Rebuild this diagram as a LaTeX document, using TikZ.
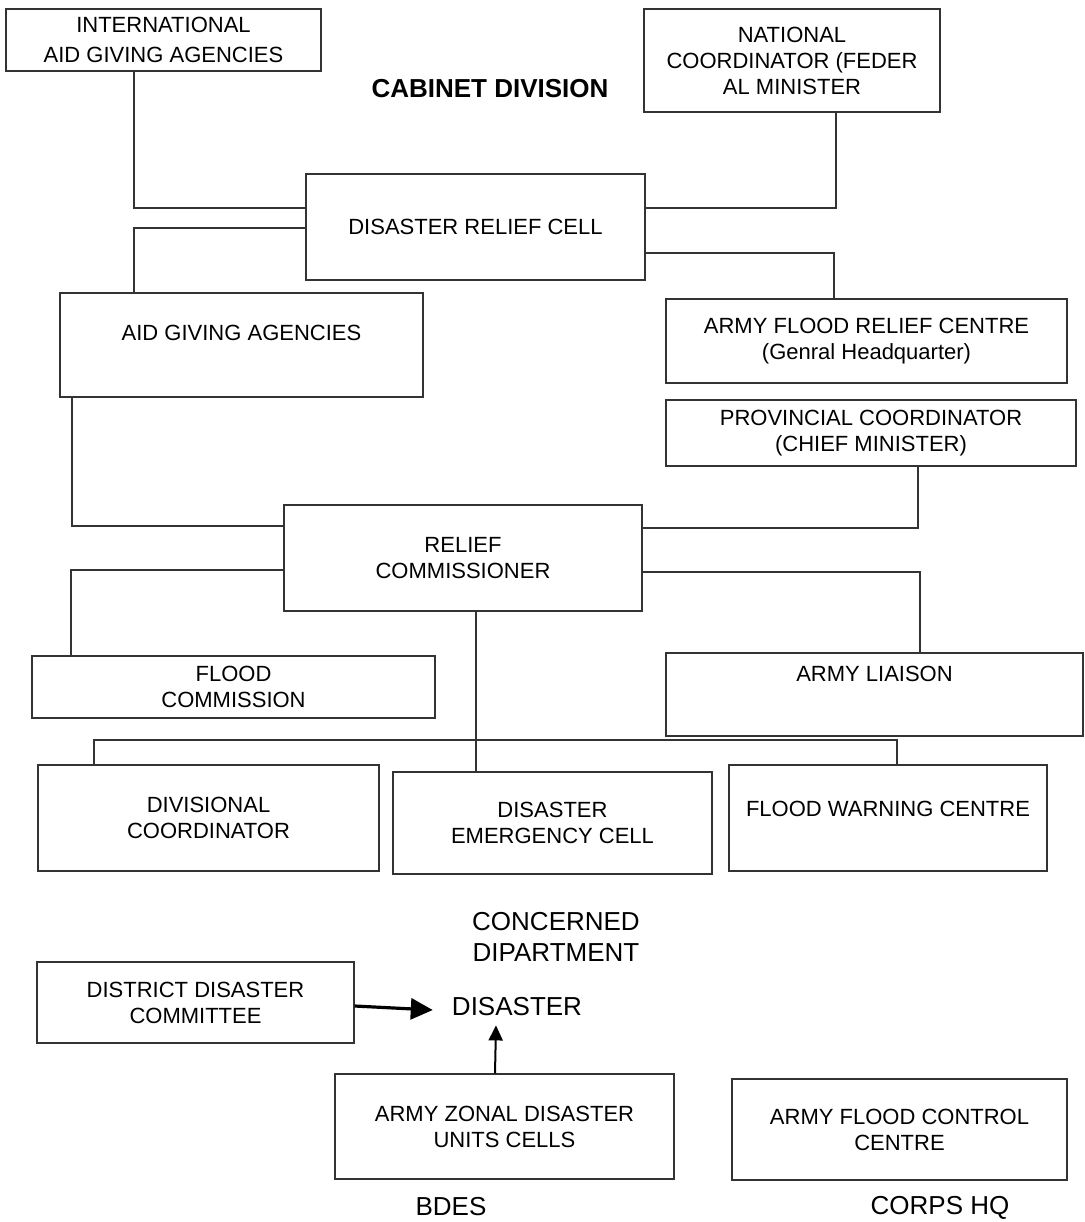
\documentclass[tikz,border=0pt]{standalone}
\usepackage{fontspec}
\setmainfont{Liberation Sans}
\usetikzlibrary{arrows.meta}

\begin{document}
\begin{tikzpicture}[x=1pt, y=-1pt,
    unit/.style={rectangle, draw=black!80, line width=1.2pt, align=center,
      font=\fontsize{22}{26}\selectfont},
    title/.style={font=\fontsize{26}{31}\selectfont, align=center, inner sep=0pt},
    link/.style={draw=black!80, line width=1.2pt},
    bigarrow/.style={line width=3.2pt, -{Triangle[length=22pt,width=21pt]}},
    smallarrow/.style={line width=2pt, -{Triangle[length=15pt,width=14pt]}}]
  \useasboundingbox (0,0) rectangle (1084,1222);

  % top level
  \node(intl) [unit, minimum width=315pt, minimum height=62pt] at (163.5,40) {INTERNATIONAL\\[4pt]AID GIVING AGENCIES};
  \node(natl) [unit, minimum width=296pt, minimum height=103pt] at (792,60.5) {NATIONAL\\COORDINATOR (FEDER\\AL MINISTER};
  \node(cabinet) [title, font=\bfseries\fontsize{26}{31}\selectfont] at (490,89) {CABINET DIVISION};
  \node(cell) [unit, minimum width=339pt, minimum height=106pt] at (475.5,227) {DISASTER RELIEF CELL};
  \node(aid) [unit, minimum width=363pt, inner ysep=0pt, text height=47pt, text depth=57pt] at (241.5,345) {AID GIVING AGENCIES};
  \node(afrc) [unit, minimum width=401pt, minimum height=84pt] at (866.5,341) {ARMY FLOOD RELIEF CENTRE\\(Genral Headquarter)};
  \node(prov) [unit, minimum width=410pt, minimum height=66pt] at (871,433) {PROVINCIAL COORDINATOR\\(CHIEF MINISTER)};

  % province level
  \node(relief) [unit, minimum width=358pt, minimum height=106pt] at (463,558) {RELIEF\\COMMISSIONER};
  \node(fcomm) [unit, minimum width=403pt, minimum height=62pt] at (233.5,687) {FLOOD\\COMMISSION};
  \node(liaison) [unit, minimum width=417pt, inner ysep=0pt, text height=28pt, text depth=55pt] at (874.5,694.5) {ARMY LIAISON};
  \node(div) [unit, minimum width=341pt, minimum height=106pt] at (208.5,818) {DIVISIONAL\\COORDINATOR};
  \node(emerg) [unit, minimum width=319pt, minimum height=102pt] at (552.5,823) {DISASTER\\EMERGENCY CELL};
  \node(warn) [unit, minimum width=318pt, inner ysep=0pt, text height=51pt, text depth=55pt] at (888,818) {FLOOD WARNING CENTRE};

  % district level
  \node(concerned) [title] at (556,937) {CONCERNED\\DIPARTMENT};
  \node(district) [unit, minimum width=317pt, minimum height=81pt] at (195.5,1002.5) {DISTRICT DISASTER\\COMMITTEE};
  \node(disaster) [title, inner xsep=19pt, inner ysep=9pt] at (517,1007) {DISASTER};
  \node(zonal) [unit, minimum width=339pt, minimum height=105pt] at (504.5,1126.5) {ARMY ZONAL DISASTER\\UNITS CELLS};
  \node(control) [unit, minimum width=335pt, minimum height=101pt] at (899.5,1129.5) {ARMY FLOOD CONTROL\\CENTRE};
  \node(bdes) [title, anchor=base] at (451,1215) {BDES};
  \node(corps) [title, anchor=base] at (940,1214) {CORPS HQ};

  \coordinate(bus) at (476,740);

  \draw[link] ([xshift=-29.5pt]intl.south) |- ([yshift=19pt]cell.west);
  \draw[link] ([yshift=-1pt]cell.west) -| ([xshift=-107.5pt]aid.north);
  \draw[link] ([xshift=44pt]natl.south) |- ([yshift=19pt]cell.east);
  \draw[link] ([yshift=-26pt]cell.east) -| ([xshift=-32.5pt]afrc.north);
  \draw[link] ([xshift=-169.5pt]aid.south) |- ([yshift=32pt]relief.west);
  \draw[link] ([xshift=47pt]prov.south) |- ([yshift=30pt]relief.east);
  \draw[link] ([yshift=-12pt]relief.west) -| ([xshift=-162.5pt]fcomm.north);
  \draw[link] ([yshift=-14pt]relief.east) -| ([xshift=45.5pt]liaison.north);
  \draw[link] ([xshift=13pt]relief.south) -- ([xshift=13pt]relief.south |- emerg.north);
  \draw[link] ([xshift=-114.5pt]div.north) |- (bus) -| ([xshift=9pt]warn.north);

  \draw[bigarrow] ([yshift=-3.5pt]district.east) -- ([yshift=-3pt]disaster.west);
  \draw[smallarrow] ([xshift=-9.5pt]zonal.north) -- ([xshift=-21pt]disaster.south);
\end{tikzpicture}
\end{document}
